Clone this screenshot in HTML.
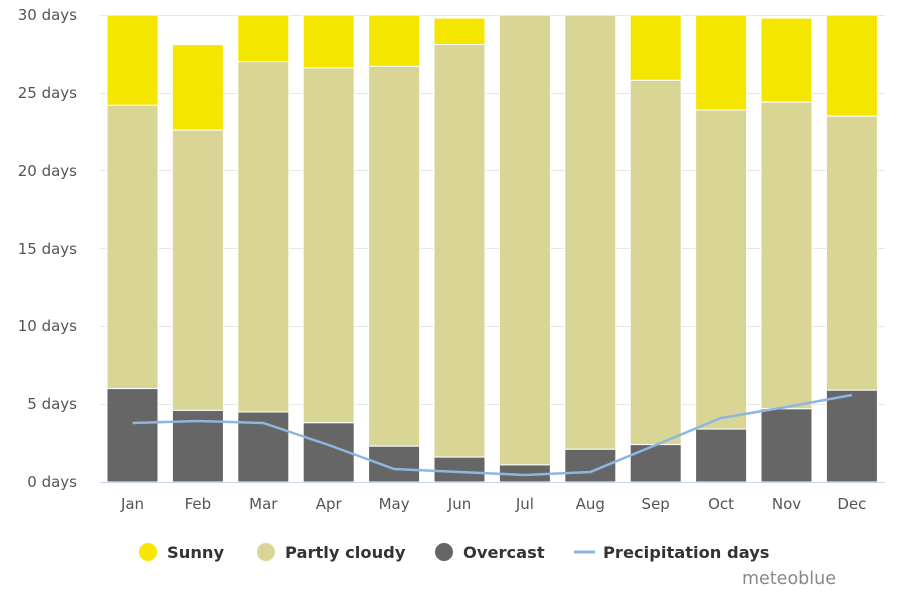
<!DOCTYPE html>
<html><head><meta charset="utf-8"><style>
body{margin:0;background:#fff;width:900px;height:600px;overflow:hidden}
svg{font-family:"DejaVu Sans","Liberation Sans",sans-serif}
</style></head><body>
<svg width="900" height="600" viewBox="0 0 900 600">
<g stroke="#e6e6e6" stroke-width="1">
<line x1="100" x2="885" y1="15.5" y2="15.5"/>
<line x1="100" x2="885" y1="93.5" y2="93.5"/>
<line x1="100" x2="885" y1="170.5" y2="170.5"/>
<line x1="100" x2="885" y1="248.5" y2="248.5"/>
<line x1="100" x2="885" y1="326.5" y2="326.5"/>
<line x1="100" x2="885" y1="404.5" y2="404.5"/>
</g>
<g font-size="15" fill="#555" text-anchor="end">
<text x="77" y="20">30 days</text>
<text x="77" y="98">25 days</text>
<text x="77" y="176">20 days</text>
<text x="77" y="254">15 days</text>
<text x="77" y="331">10 days</text>
<text x="77" y="409">5 days</text>
<text x="77" y="487">0 days</text>
</g>
<g stroke="#fff" stroke-width="1">
<rect x="107" y="15" width="51" height="90.3" fill="#f5e600"/><rect x="107" y="105.3" width="51" height="283.3" fill="#d8d595"/><rect x="107" y="388.6" width="51" height="93.4" fill="#666"/>
<rect x="172.4" y="44.6" width="51" height="85.6" fill="#f5e600"/><rect x="172.4" y="130.2" width="51" height="280.2" fill="#d8d595"/><rect x="172.4" y="410.4" width="51" height="71.6" fill="#666"/>
<rect x="237.8" y="15" width="51" height="46.7" fill="#f5e600"/><rect x="237.8" y="61.7" width="51" height="350.3" fill="#d8d595"/><rect x="237.8" y="412" width="51" height="70" fill="#666"/>
<rect x="303.2" y="15" width="51" height="52.9" fill="#f5e600"/><rect x="303.2" y="67.9" width="51" height="354.9" fill="#d8d595"/><rect x="303.2" y="422.8" width="51" height="59.2" fill="#666"/>
<rect x="368.6" y="15" width="51" height="51.4" fill="#f5e600"/><rect x="368.6" y="66.4" width="51" height="379.8" fill="#d8d595"/><rect x="368.6" y="446.2" width="51" height="35.8" fill="#666"/>
<rect x="434" y="18.1" width="51" height="26.5" fill="#f5e600"/><rect x="434" y="44.6" width="51" height="412.5" fill="#d8d595"/><rect x="434" y="457.1" width="51" height="24.9" fill="#666"/>
<rect x="499.4" y="15" width="51" height="449.9" fill="#d8d595"/><rect x="499.4" y="464.9" width="51" height="17.1" fill="#666"/>
<rect x="564.8" y="15" width="51" height="434.3" fill="#d8d595"/><rect x="564.8" y="449.3" width="51" height="32.7" fill="#666"/>
<rect x="630.2" y="15" width="51" height="65.4" fill="#f5e600"/><rect x="630.2" y="80.4" width="51" height="364.2" fill="#d8d595"/><rect x="630.2" y="444.6" width="51" height="37.4" fill="#666"/>
<rect x="695.6" y="15" width="51" height="95" fill="#f5e600"/><rect x="695.6" y="110" width="51" height="319.1" fill="#d8d595"/><rect x="695.6" y="429.1" width="51" height="52.9" fill="#666"/>
<rect x="761" y="18.1" width="51" height="84.1" fill="#f5e600"/><rect x="761" y="102.2" width="51" height="306.6" fill="#d8d595"/><rect x="761" y="408.8" width="51" height="73.2" fill="#666"/>
<rect x="826.4" y="15" width="51" height="101.2" fill="#f5e600"/><rect x="826.4" y="116.2" width="51" height="274" fill="#d8d595"/><rect x="826.4" y="390.2" width="51" height="91.8" fill="#666"/>
</g>
<line x1="100" x2="885" y1="482.5" y2="482.5" stroke="#ccd6eb"/>
<polyline fill="none" stroke="#8db7e0" stroke-width="2.5" points="132.5,423 197.9,421 263.3,423 328.7,445 394.1,469 459.5,472 524.9,475 590.3,472 655.7,445 721.1,418 786.5,407 851.9,395"/>
<g font-size="15" fill="#555" text-anchor="middle">
<text x="132.5" y="509">Jan</text><text x="197.9" y="509">Feb</text><text x="263.3" y="509">Mar</text><text x="328.7" y="509">Apr</text><text x="394.1" y="509">May</text><text x="459.5" y="509">Jun</text><text x="524.9" y="509">Jul</text><text x="590.3" y="509">Aug</text><text x="655.7" y="509">Sep</text><text x="721.1" y="509">Oct</text><text x="786.5" y="509">Nov</text><text x="851.9" y="509">Dec</text>
</g>
<g font-size="16.3" font-weight="bold" fill="#333">
<circle cx="148" cy="552" r="9" fill="#f5e600"/><text x="167" y="558">Sunny</text>
<circle cx="266" cy="552" r="9" fill="#d8d595"/><text x="285" y="558">Partly cloudy</text>
<circle cx="444" cy="552" r="9" fill="#666"/><text x="463" y="558">Overcast</text>
<line x1="574" x2="595" y1="552" y2="552" stroke="#8db7e0" stroke-width="3"/><text x="603" y="558">Precipitation days</text>
</g>
<text x="742" y="584" font-size="17.5" fill="#888">meteoblue</text>
</svg>
</body></html>
